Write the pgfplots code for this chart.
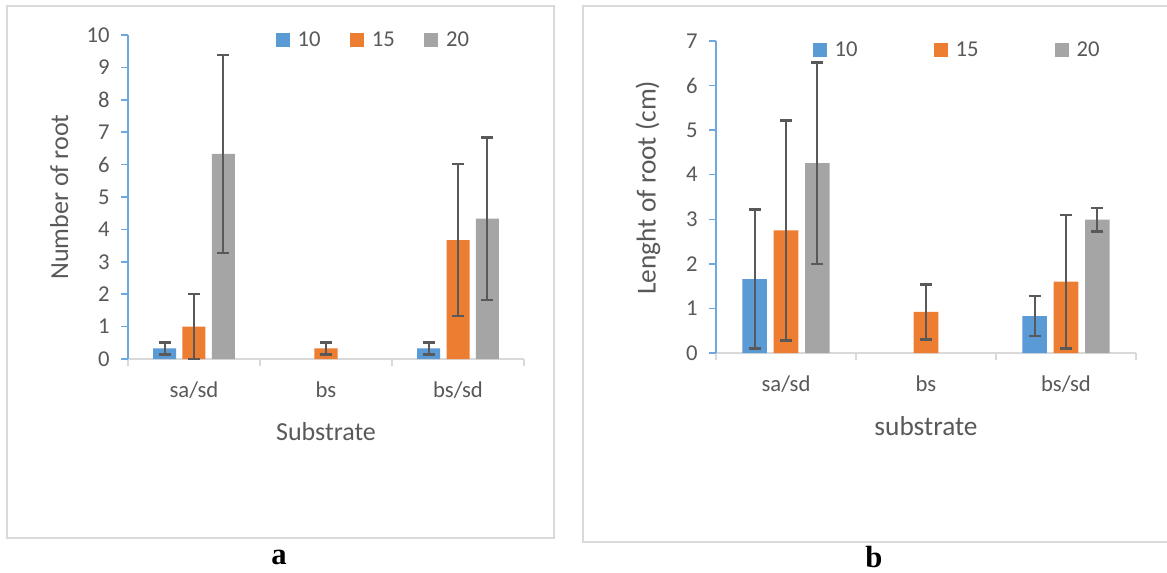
\documentclass[border=0pt]{standalone}
\usepackage{pgfplots}
\pgfplotsset{compat=1.18}
\usepackage{fontspec}
\setmainfont{Carlito}
\newfontfamily\capfont{Liberation Serif}
\definecolor{c10}{HTML}{5B9BD5}
\definecolor{c15}{HTML}{ED7D31}
\definecolor{c20}{HTML}{A5A5A5}
\definecolor{txt}{HTML}{595959}
\definecolor{errc}{HTML}{595959}
\definecolor{yax}{HTML}{6FA8DC}
\definecolor{xax}{HTML}{D9D9D9}
\definecolor{frm}{HTML}{D9D9D9}
\pgfplotsset{
  panel/.style={
    scale only axis,
    axis x line*=bottom, axis y line*=left,
    xmin=-0.5, xmax=2.5, ymin=0,
    ybar,
    xtick={0,1,2},
    xticklabels={sa/sd,bs,bs/sd},
    major x tick style={draw=none},
    minor xtick={-0.5,0.5,1.5,2.5},
    minor x tick style={draw=xax, line width=1.1pt},
    minor tick length=5.25pt,
    major tick length=5.25pt,
    tick align=outside,
    x axis line style={draw=xax, line width=1.1pt},
    y axis line style={draw=yax, line width=1.1pt},
    ytick style={draw=yax, line width=1.1pt},
    /pgf/number format/assume math mode=true,
    ticklabel style={font=\fontsize{17}{20}\selectfont, text=txt},
    yticklabel style={xshift=-5pt},
    xticklabel style={yshift=-8pt},
    label style={font=\fontsize{19.5}{23}\selectfont, text=txt},
    legend columns=3,
    legend image code/.code={\fill[##1] (0pt,-5.25pt) rectangle (10.5pt,5.25pt);},
    legend style={draw=none, fill=none, anchor=west,
      font=\fontsize{17}{20}\selectfont, text=txt,
      /tikz/every odd column/.append style={column sep=4pt}},
  },
  eb/.style={error bars/.cd, y dir=both, y explicit,
    error bar style={line width=1.5pt, color=errc},
    error mark options={rotate=90, mark size=4.5pt, line width=1.8pt, color=errc}},
}
\begin{document}
\begin{tikzpicture}
\useasboundingbox (0,0) rectangle (875.25pt,-429.75pt);
\fill[white] (0,0) rectangle (875.25pt,-429.75pt);
\draw[frm, line width=1.1pt] (5.25pt,-4.5pt) rectangle (415.5pt,-403.5pt);
\draw[frm, line width=1.1pt] (880pt,-4.5pt) -- (437.25pt,-4.5pt) -- (437.25pt,-406.5pt) -- (880pt,-406.5pt);

% Panel a
\begin{axis}[panel,
  at={(96pt,-269.25pt)}, anchor=south west,
  width=297pt, height=243pt,
  ymax=10, ytick={0,1,...,10},
  bar width=17.25pt,
  xlabel={Substrate}, ylabel={Number of root},
  xlabel style={at={(axis description cs:0.5,-0.225)}, anchor=center},
  ylabel style={at={(axis description cs:-0.174,0.5)}, anchor=center},
  legend style={at={(0.362,0.985)},
    /tikz/every even column/.append style={column sep=20pt}},
]
\addplot[fill=c10, draw=none, bar shift=-22.1pt, eb] coordinates {(0,0.33) +- (0,0.185) (2,0.33) +- (0,0.185)};
\addplot[fill=c15, draw=none, bar shift=0pt, eb] coordinates {(0,1.0) +- (0,1.0) (1,0.33) +- (0,0.185) (2,3.67) +- (0,2.35)};
\addplot[fill=c20, draw=none, bar shift=22.1pt, eb] coordinates {(0,6.33) +- (0,3.05) (2,4.33) +- (0,2.51)};
\legend{10,15,20}
\end{axis}

% Panel b
\begin{axis}[panel,
  at={(537pt,-264.75pt)}, anchor=south west,
  width=315pt, height=234pt,
  ymax=7, ytick={0,1,...,7},
  bar width=18.4pt,
  xlabel={substrate}, ylabel={Lenght of root (cm)},
  label style={font=\fontsize{20.5}{24}\selectfont},
  xlabel style={at={(axis description cs:0.5,-0.234)}, anchor=center},
  ylabel style={at={(axis description cs:-0.162,0.53)}, anchor=center},
  legend style={at={(0.22,0.971)},
    /tikz/every even column/.append style={column sep=55pt}},
]
\addplot[fill=c10, draw=none, bar shift=-23.6pt, eb] coordinates {(0,1.66) +- (0,1.56) (2,0.83) +- (0,0.445)};
\addplot[fill=c15, draw=none, bar shift=0pt, eb] coordinates {(0,2.75) +- (0,2.47) (1,0.92) +- (0,0.62) (2,1.60) +- (0,1.495)};
\addplot[fill=c20, draw=none, bar shift=23.6pt, eb] coordinates {(0,4.26) +- (0,2.26) (2,2.99) +- (0,0.265)};
\legend{10,15,20}
\end{axis}

\node[font=\capfont\bfseries\fontsize{23}{26}\selectfont] at (209.25pt,-418pt) {a};
\node[font=\capfont\bfseries\fontsize{23}{26}\selectfont] at (655.5pt,-418pt) {b};
\end{tikzpicture}
\end{document}
